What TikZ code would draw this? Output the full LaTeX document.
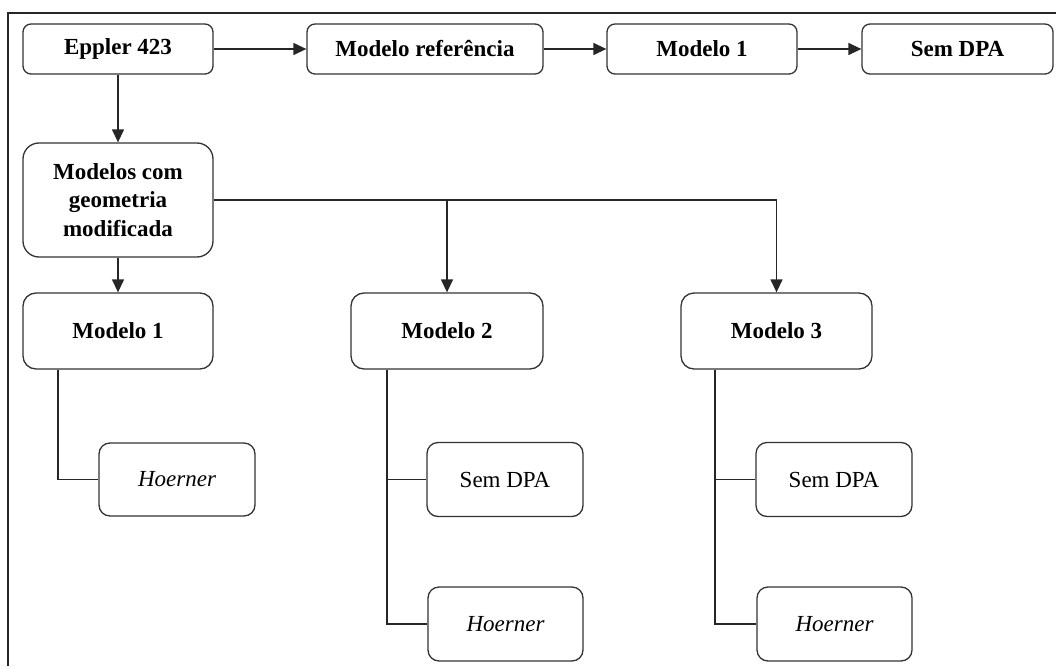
\documentclass[tikz,border=0pt]{standalone}
\usepackage{fontspec}
\setmainfont{Liberation Serif}
\usetikzlibrary{arrows.meta}
\begin{document}
\begin{tikzpicture}[x=1pt,y=-1pt,
  box/.style={draw=black!80, line width=1.3pt, rounded corners=#1, align=center, inner sep=0pt,
    font=\fontsize{23}{28.5}\selectfont},
  box/.default=8pt,
  bbox/.style={box=#1, font=\fontsize{23}{28.5}\selectfont\bfseries},
  bbox/.default=8pt,
  conn/.style={draw=black!85, line width=1.3pt},
  arr/.style={conn, -{Triangle[length=13pt,width=12pt]}}
]
\useasboundingbox (0,0) rectangle (1056,666);
\draw[line width=1.6pt, black!85] (1056,13) -- (8,13) -- (8,666);

\node[bbox, minimum width=190pt, minimum height=50pt] (eppler) at (118,49) {Eppler 423};
\node[bbox, minimum width=236pt, minimum height=50pt] (ref) at (425,49) {Modelo referência};
\node[bbox, minimum width=190pt, minimum height=50pt] (m1top) at (702,49) {Modelo 1};
\node[bbox, minimum width=191pt, minimum height=50pt] (semtop) at (957.5,49) {Sem DPA};

\node[bbox=16pt, minimum width=190pt, minimum height=114pt] (geo) at (118,200) {Modelos com\\geometria\\modificada};

\node[bbox=13pt, minimum width=190pt, minimum height=76pt] (m1) at (118,331) {Modelo 1};
\node[bbox=13pt, minimum width=192pt, minimum height=76pt] (m2) at (447,331) {Modelo 2};
\node[bbox=13pt, minimum width=191pt, minimum height=76pt] (m3) at (776.5,331) {Modelo 3};

\node[box=11pt, minimum width=156pt, minimum height=73pt] (h1) at (177,479.5) {\itshape Hoerner};
\node[box=11pt, minimum width=156pt, minimum height=74pt] (s2) at (505,479.5) {Sem DPA};
\node[box=11pt, minimum width=155pt, minimum height=74pt] (h2) at (505.5,624) {\itshape Hoerner};
\node[box=11pt, minimum width=156pt, minimum height=74pt] (s3) at (834,479.5) {Sem DPA};
\node[box=11pt, minimum width=155pt, minimum height=74pt] (h3) at (834.5,624) {\itshape Hoerner};

\draw[arr] (eppler) -- (ref);
\draw[arr] (ref) -- (m1top);
\draw[arr] (m1top) -- (semtop);
\draw[arr] (eppler) -- (geo);
\draw[arr] (geo) -- (m1);

\coordinate (jm2) at (m2.north |- geo.east);
\coordinate (jm3) at (m3.north |- geo.east);
\draw[conn] (geo.east) -- (jm3);
\draw[arr] (jm2) -- (m2.north);
\draw[arr] (jm3) -- (m3.north);

\coordinate (t1) at ([xshift=-60pt]m1.south);
\coordinate (t2) at ([xshift=-60pt]m2.south);
\coordinate (t3) at ([xshift=-61.5pt]m3.south);
\draw[conn] (t1) |- (h1.west);
\draw[conn] (t2) |- (s2.west);
\draw[conn] (t2) |- (h2.west);
\draw[conn] (t3) |- (s3.west);
\draw[conn] (t3) |- (h3.west);
\end{tikzpicture}
\end{document}
